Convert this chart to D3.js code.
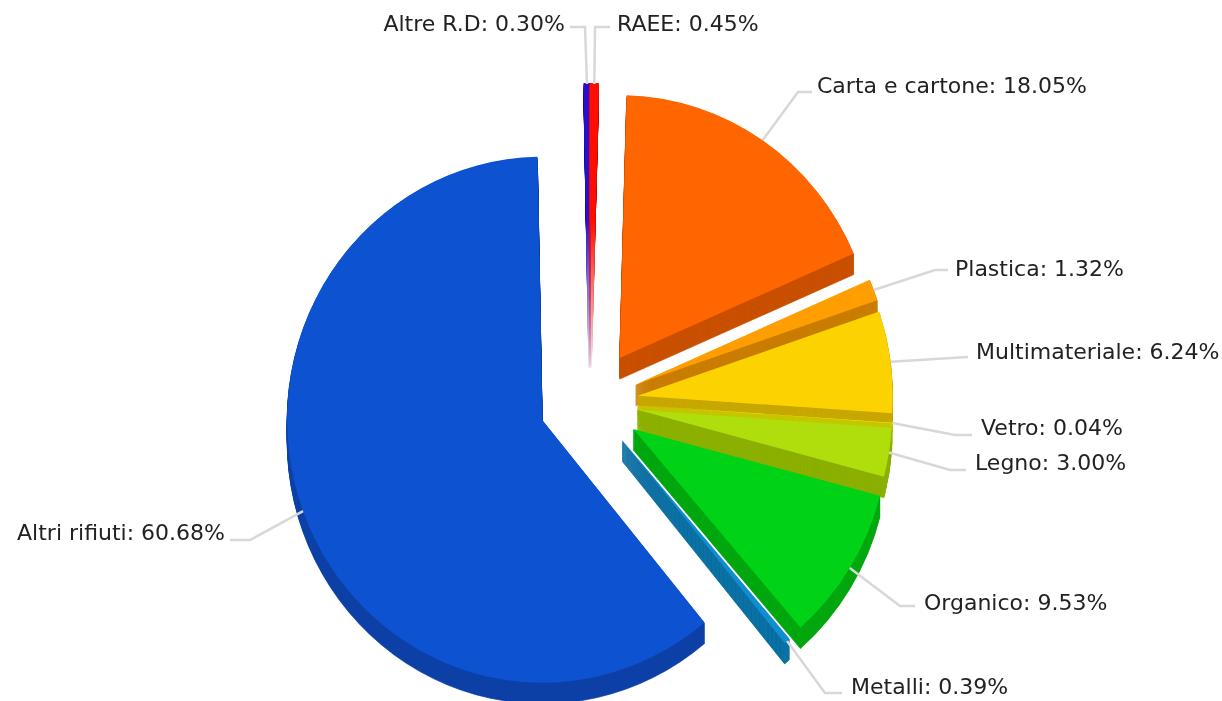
<!DOCTYPE html>
<html>
<head>
<meta charset="utf-8">
<script src="https://cdnjs.cloudflare.com/ajax/libs/d3/7.8.5/d3.min.js"></script>
<style>
html, body { margin: 0; padding: 0; background: #fff; overflow: hidden; }
text { font-family: "DejaVu Sans", sans-serif; font-size: 22px; fill: #222; }
</style>
</head>
<body>
<div class="chart"></div>
<script>
// data, clockwise from the top
var categories = ['Carta e cartone','Plastica','Multimateriale','Vetro','Legno','Organico','Metalli','Altri rifiuti','Altre R.D','RAEE'];
var percents = [18.05,1.32,6.24,0.04,3.00,9.53,0.39,60.68,0.30,0.45];
var colors = ['#ff6600','#ff9e01','#fcd202','#f8ff01','#b0de09','#04d215','#0d8ecf','#0d52d1','#2a0cd0','#ff0f00'];

// how far each slice is pulled out of the pie
var explodes = [53,49,48,48,48,51,50,51,55,55];

// label layout: elbow of the leader line, end of the leader, text start, baseline
var elbows = [[798,92],[935,270],[968,357],[955,435],[950,470],[900,606],[825,693],[250,540],[585,27],[595,27]];
var leaderEnds = [812,948,968,972,966,915,842,230,570,610];
var labelX = [817,955,976,981,975,924,851,225,565,617];
var labelY = [93,276,359,435,470,610,694,540,31,31];

var width = 1222, height = 701;
var cx = 590, cy = 402, rx = 255, ry = 263, depth = 21;
var startDeg = 1.6;

var svg = d3.select('.chart').append('svg')
	.attr('width', width)
	.attr('height', height)
	.style('display', 'block');

var defs = svg.append('defs');

defs.append('filter').attr('id', 'soft')
	.attr('x', 0).attr('y', 0)
	.attr('width', width).attr('height', height)
	.attr('filterUnits', 'userSpaceOnUse')
	.append('feGaussianBlur').attr('stdDeviation', 0.7);

// the two needle slices fade out towards their tip
var fade = defs.append('linearGradient').attr('id', 'fade')
	.attr('gradientUnits', 'userSpaceOnUse')
	.attr('x1', 0).attr('x2', 0).attr('y1', 220).attr('y2', 368);
fade.append('stop').attr('offset', 0).attr('stop-color', '#fff');
fade.append('stop').attr('offset', 1).attr('stop-color', '#fff').attr('stop-opacity', 0.08);
defs.append('mask').attr('id', 'needle')
	.attr('maskUnits', 'userSpaceOnUse')
	.attr('x', 0).attr('y', 0).attr('width', width).attr('height', height)
	.append('rect')
	.attr('width', width).attr('height', height)
	.style('fill', 'url(#fade)');

var root = svg.append('g').attr('filter', 'url(#soft)');

var pie = d3.pie().sort(null)
	.startAngle(startDeg * Math.PI / 180)
	.endAngle((startDeg + 360) * Math.PI / 180);
var arcs = pie(percents);
var arc = d3.arc().innerRadius(0).outerRadius(rx);
var yScale = ry / rx;

function midAngle(d) { return (d.startAngle + d.endAngle) / 2; }
function apex(d, i) {
	var a = midAngle(d);
	return [cx + explodes[i] * Math.sin(a), cy - explodes[i] * Math.cos(a)];
}
function place(d, i, dy) {
	var p = apex(d, i);
	return 'translate(' + p[0] + ',' + (p[1] + dy) + ') scale(1,' + yScale + ')';
}
function isNeedle(i) { return i >= 8; }

var slices = root.selectAll('g.slice')
	.data(arcs)
	.enter()
	.append('g')
	.attr('class', 'slice')
	.attr('mask', function (d, i) { return isNeedle(i) ? 'url(#needle)' : null; });

// the side is the slice repeated downwards in the darker colour
slices.each(function (d, i) {
	var dark = d3.color(colors[i]).darker(0.65).formatHex();
	d3.select(this).selectAll('path.side')
		.data(d3.range(depth, 0, -1))
		.enter()
		.append('path')
		.attr('class', 'side')
		.attr('d', arc(d))
		.attr('transform', function (k) { return place(d, i, k); })
		.style('fill', dark)
		.style('stroke', dark)
		.style('stroke-width', isNeedle(i) ? 2 : 0.7);
});

slices.append('path')
	.attr('d', function (d) { return arc(d); })
	.attr('transform', function (d, i) { return place(d, i, 0); })
	.style('fill', function (d, i) { return colors[i]; })
	.style('stroke', function (d, i) { return isNeedle(i) ? colors[i] : 'none'; })
	.style('stroke-width', 2);

var line = d3.line();

root.selectAll('path.leader')
	.data(arcs)
	.enter()
	.append('path')
	.attr('class', 'leader')
	.attr('d', function (d, i) {
		var a = midAngle(d), p = apex(d, i);
		var from = [p[0] + rx * Math.sin(a), p[1] - ry * Math.cos(a)];
		return line([from, elbows[i], [leaderEnds[i], elbows[i][1]]]);
	})
	.style('fill', 'none')
	.style('stroke', '#d8d8d8')
	.style('stroke-width', 2.5);

root.selectAll('text')
	.data(arcs)
	.enter()
	.append('text')
	.attr('x', function (d, i) { return labelX[i]; })
	.attr('y', function (d, i) { return labelY[i]; })
	.style('text-anchor', function (d, i) { return (i == 7 || i == 8) ? 'end' : 'start'; })
	.text(function (d, i) { return categories[i] + ': ' + percents[i].toFixed(2) + '%'; });
</script>
</body>
</html>
